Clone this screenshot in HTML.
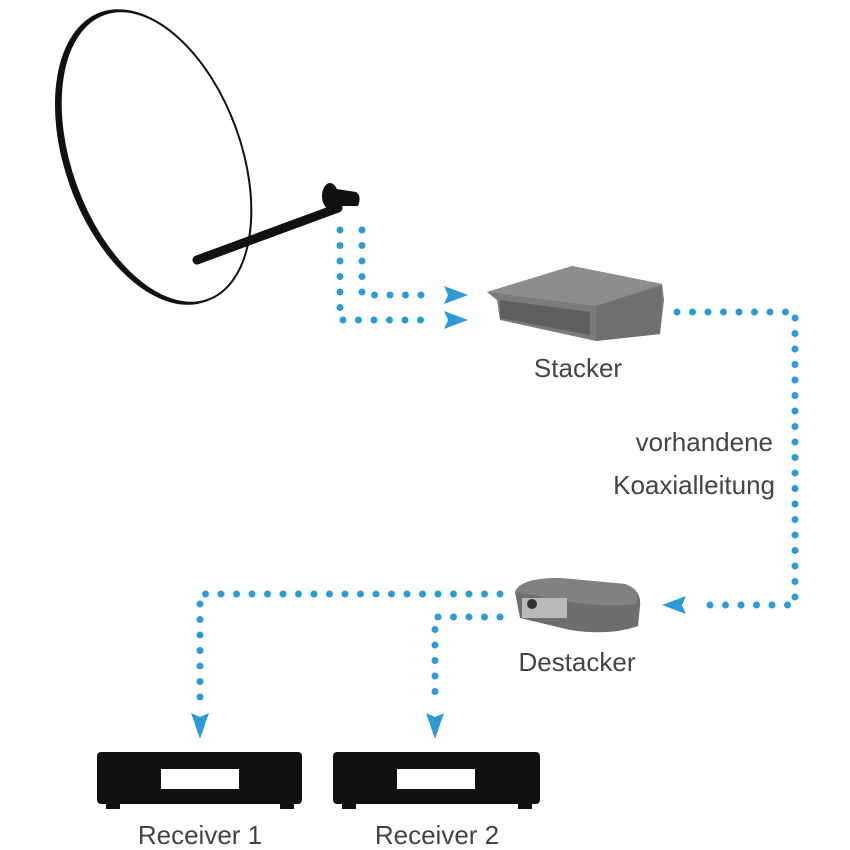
<!DOCTYPE html>
<html><head><meta charset="utf-8"><style>
html,body{margin:0;padding:0;background:#fff;}
svg{display:block}
text{font-family:"Liberation Sans",sans-serif;fill:#444;font-size:26px;}
</style></head><body>
<svg width="850" height="850" viewBox="0 0 850 850" xmlns="http://www.w3.org/2000/svg">
<!-- dish -->
<ellipse cx="153" cy="157" rx="88" ry="154" transform="rotate(-20 153 157)" fill="#111"/>
<ellipse cx="156" cy="157" rx="85" ry="152" transform="rotate(-20 156 157)" fill="#fff" stroke="#111" stroke-width="2"/>
<line x1="197" y1="260" x2="338" y2="208" stroke="#111" stroke-width="9" stroke-linecap="round"/>
<ellipse cx="330" cy="196" rx="8" ry="13" fill="#111"/>
<path d="M330 188 L356 192 Q362 196 358 206 L336 206 Z" fill="#111"/>
<g stroke="#2d9ad8" stroke-width="7" stroke-linecap="round" stroke-dasharray="0 15.5" fill="none">
<path d="M340 230 V320 H432"/>
<path d="M362 230 V295 H432"/>
<path d="M677 312 H795 V605 H697"/>
<path d="M500 594 H200 V702"/>
<path d="M500 617 H435 V702"/>
</g>
<g fill="#2d9ad8">
<polygon points="444,286 468,295 444,304 448,295"/>
<polygon points="444,311 468,320 444,329 448,320"/>
<polygon points="686,596 662,605 686,614 682,605"/>
<polygon points="191,713 200,739 209,713 200,717"/>
<polygon points="426,713 435,739 444,713 435,717"/>
</g>
<!-- stacker -->
<polygon points="487,292 572,266 662,284 664,300 660,334 596,341 500,320 497,300" fill="#7a7b7d"/>
<polygon points="487,292 572,266 662,284 596,306" fill="#8c8d8f"/>
<polygon points="500,300 590,312 590,335 500,318" fill="#5d5e60"/>
<polygon points="596,306 662,286 660,334 596,341" fill="#6e6f71"/>
<!-- destacker -->
<path d="M515 592 Q520 578 560 578 L625 584 Q642 590 640 606 L638 626 Q610 636 570 630 L520 618 Z" fill="#6d6e70"/>
<path d="M515 592 Q520 578 560 578 L625 584 Q642 590 636 604 Q600 608 560 600 Z" fill="#808183"/>
<rect x="522" y="598" width="45" height="20" fill="#b8b9bb"/>
<circle cx="532" cy="604" r="5" fill="#333"/>
<!-- receivers -->
<g fill="#111">
<rect x="97" y="752" width="205" height="52" rx="4"/>
<rect x="106" y="800" width="14" height="9"/>
<rect x="280" y="800" width="14" height="9"/>
<rect x="333" y="752" width="207" height="52" rx="4"/>
<rect x="342" y="800" width="14" height="9"/>
<rect x="518" y="800" width="14" height="9"/>
</g>
<rect x="161" y="769" width="78" height="20" fill="#fff"/>
<rect x="397" y="769" width="78" height="20" fill="#fff"/>
<text x="578" y="377" text-anchor="middle">Stacker</text>
<text x="773" y="451" text-anchor="end">vorhandene</text>
<text x="775" y="494" text-anchor="end">Koaxialleitung</text>
<text x="577" y="671" text-anchor="middle">Destacker</text>
<text x="200" y="844" text-anchor="middle">Receiver 1</text>
<text x="437" y="844" text-anchor="middle">Receiver 2</text>
</svg>
</body></html>
